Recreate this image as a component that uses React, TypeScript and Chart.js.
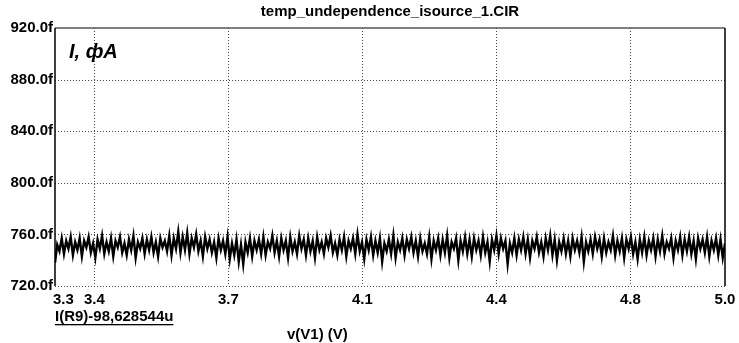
import React, { useEffect, useRef } from "react";
import { Chart, registerables } from "chart.js";

Chart.register(...registerables);

const chartTitle = "temp_undependence_isource_1.CIR";
const yAxisNote = "I, фA";
const traceLabel = "I(R9)-98,628544u";
const xAxisTitle = "v(V1) (V)";

const sweepStart = 3.3;
const sweepEnd = 5.0;
const xTickValues = [3.3, 3.4, 3.74, 4.08, 4.42, 4.76, 5.0];
const yMin = 720;
const yMax = 920;
const yStep = 40;

// I(R9) trace, in fA, sampled evenly across the sweep
const currentValues = [
  738, 752, 747, 757, 745, 755, 749, 758, 744, 754,
  748, 757, 743, 755, 750, 758, 746, 753, 742, 756,
  749, 759, 745, 754, 747, 757, 743, 755, 750, 758,
  746, 753, 744, 756, 748, 759, 742, 754, 749, 757,
  745, 756, 748, 758, 746, 754, 743, 757, 750, 755,
  747, 759, 744, 757, 749, 762, 746, 758, 748, 761,
  745, 757, 750, 760, 747, 755, 743, 758, 749, 756,
  746, 754, 742, 757, 748, 755, 745, 758, 741, 753,
  744, 756, 739, 752, 737, 754, 746, 757, 743, 755,
  748, 756, 745, 758, 744, 754, 749, 759, 746, 755,
  743, 757, 748, 755, 742, 758, 747, 754, 745, 759,
  749, 756, 744, 757, 747, 755, 742, 758, 748, 754,
  745, 757, 750, 759, 746, 753, 744, 756, 748, 758,
  743, 755, 749, 757, 745, 760, 747, 754, 741, 756,
  748, 758, 744, 755, 746, 757, 739, 753, 747, 756,
  745, 759, 742, 754, 748, 757, 744, 756, 749, 758,
  746, 755, 743, 757, 747, 753, 745, 758, 741, 755,
  748, 757, 744, 756, 746, 759, 742, 754, 749, 757,
  740, 755, 747, 758, 745, 756, 743, 757, 748, 755,
  744, 758, 746, 754, 739, 756, 748, 759, 745, 757,
  749, 755, 737, 753, 746, 757, 744, 756, 748, 758,
  745, 756, 742, 755, 749, 758, 746, 754, 743, 757,
  748, 759, 744, 756, 740, 754, 747, 757, 745, 755,
  743, 757, 748, 755, 746, 758, 739, 754, 747, 756,
  745, 758, 749, 756, 743, 757, 746, 754, 748, 759,
  744, 755, 747, 757, 742, 756, 749, 758, 745, 754,
  741, 756, 746, 758, 744, 755, 748, 757, 743, 756,
  747, 759, 745, 754, 749, 757, 742, 755, 748, 758,
  744, 756, 747, 758, 745, 755, 741, 757, 749, 756,
  746, 758, 743, 755, 748, 757, 744, 756, 742, 753,
];

const FONT = "'Liberation Sans', Arial, sans-serif";

const framePlugin = {
  id: "frame",
  beforeDatasetsDraw(chart: any) {
    const { ctx, chartArea: a, scales } = chart;
    const xs = scales.x;
    const ys = scales.y;
    ctx.save();
    ctx.strokeStyle = "#444";
    ctx.lineWidth = 1;
    ctx.setLineDash([1, 2]);
    for (const v of xTickValues) {
      if (v <= sweepStart || v >= sweepEnd) continue;
      const px = Math.round(xs.getPixelForValue(v)) + 0.5;
      ctx.beginPath();
      ctx.moveTo(px, a.top);
      ctx.lineTo(px, a.bottom);
      ctx.stroke();
    }
    for (let v = yMin + yStep; v < yMax; v += yStep) {
      const py = Math.round(ys.getPixelForValue(v)) + 0.5;
      ctx.beginPath();
      ctx.moveTo(a.left, py);
      ctx.lineTo(a.right, py);
      ctx.stroke();
    }
    const pb = Math.round(a.bottom) + 0.5;
    ctx.beginPath();
    ctx.moveTo(a.left, pb);
    ctx.lineTo(a.right, pb);
    ctx.stroke();
    ctx.restore();
  },
  afterDatasetsDraw(chart: any) {
    const { ctx, chartArea: a } = chart;
    ctx.save();
    ctx.strokeStyle = "#555";
    ctx.lineWidth = 1.5;
    ctx.beginPath();
    ctx.moveTo(a.left, a.top);
    ctx.lineTo(a.right, a.top);
    ctx.stroke();
    ctx.strokeStyle = "#000";
    ctx.lineWidth = 1.5;
    ctx.beginPath();
    ctx.moveTo(a.left, a.top);
    ctx.lineTo(a.left, a.bottom);
    ctx.moveTo(a.right, a.top);
    ctx.lineTo(a.right, a.bottom);
    ctx.stroke();

    ctx.fillStyle = "#000";
    ctx.font = `bold 15px ${FONT}`;
    ctx.textAlign = "center";
    ctx.textBaseline = "middle";
    ctx.fillText(chartTitle, (a.left + a.right) / 2, 12);
    ctx.font = `italic bold 20px ${FONT}`;
    ctx.textAlign = "left";
    ctx.fillText(yAxisNote, a.left + 14, a.top + 24);
    ctx.font = `bold 15px ${FONT}`;
    ctx.textAlign = "left";
    ctx.fillText(traceLabel, a.left, 317);
    const w = ctx.measureText(traceLabel).width;
    ctx.fillRect(a.left, 324, w, 1.3);
    ctx.fillText(xAxisTitle, 287, 335);
    ctx.restore();
  },
};

export default function App() {
  const ref = useRef<HTMLCanvasElement | null>(null);
  useEffect(() => {
    if (!ref.current) return;
    const n = currentValues.length;
    const points = currentValues.map((y, i) => ({
      x: sweepStart + ((sweepEnd - sweepStart) * i) / (n - 1),
      y,
    }));
    const chart = new Chart(ref.current, {
      type: "line",
      data: {
        datasets: [
          {
            data: points,
            borderColor: "#000",
            borderWidth: 2.4,
            pointRadius: 0,
            tension: 0,
          },
        ],
      },
      options: {
        animation: false,
        responsive: false,
        events: [],
        layout: { padding: { left: 0, right: 14, top: 28, bottom: 0 } },
        plugins: { legend: { display: false }, tooltip: { enabled: false } },
        scales: {
          x: {
            type: "linear",
            min: sweepStart,
            max: sweepEnd,
            afterBuildTicks(scale: any) {
              scale.ticks = xTickValues.map((v) => ({ value: v }));
            },
            afterFit(scale: any) {
              scale.height = 57;
              scale.paddingLeft = 0;
              scale.paddingRight = 0;
            },
            grid: { display: false, drawTicks: false },
            border: { display: false },
            ticks: {
              autoSkip: false,
              maxRotation: 0,
              padding: 5,
              color: "#000",
              font: { family: FONT, size: 15, weight: "bold" },
              callback(v: any) {
                const s = Number(v).toFixed(1);
                return Number(v) === sweepStart ? "    " + s : s;
              },
            },
          },
          y: {
            type: "linear",
            min: yMin,
            max: yMax,
            afterFit(scale: any) {
              scale.width = 55;
            },
            grid: { display: false, drawTicks: false },
            border: { display: false },
            ticks: {
              stepSize: yStep,
              padding: 2,
              color: "#000",
              font: { family: FONT, size: 15, weight: "bold" },
              callback(v: any) {
                return Number(v).toFixed(1) + "f";
              },
            },
          },
        },
      },
      plugins: [framePlugin],
    });
    return () => chart.destroy();
  }, []);
  return (
    <div style={{ position: "fixed", left: 0, top: 0, width: 739, height: 343, background: "#fff" }}>
      <canvas ref={ref} width={739} height={343} style={{ width: 739, height: 343 }} />
    </div>
  );
}
